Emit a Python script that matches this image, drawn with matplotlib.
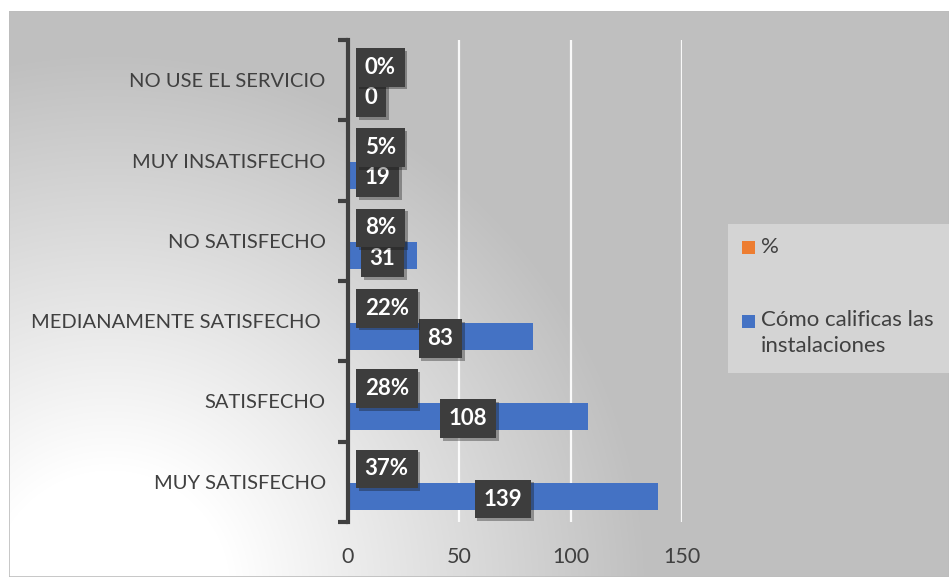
import numpy as np
import matplotlib.pyplot as plt
from matplotlib import patheffects
from matplotlib.patches import Rectangle

# Datos de la encuesta
categorias = ['MUY SATISFECHO', 'SATISFECHO', 'MEDIANAMENTE SATISFECHO ',
              'NO SATISFECHO', 'MUY INSATISFECHO', 'NO USE EL SERVICIO']
respuestas = [139, 108, 83, 31, 19, 0]
porcentajes = [0.37, 0.28, 0.22, 0.08, 0.05, 0.00]
etiquetas_pct = ['37%', '28%', '22%', '8%', '5%', '0%']
ticks_x = [0, 50, 100, 150]

plt.rcParams['font.family'] = ['Lato', 'DejaVu Sans']

W, H = 949, 577
fig = plt.figure(figsize=(W / 100, H / 100), dpi=100)
fig.patch.set_facecolor('white')

# fondo gris con degradado blanco desde la esquina inferior izquierda
x0, y0 = 9, 11
bg = fig.add_axes([x0 / W, 0, (W - x0) / W, (H - y0) / H], zorder=-10)
xx, yy = np.meshgrid(np.arange(x0, W), np.arange(y0, H))
d = np.hypot(xx - 110, yy - 590)
f = np.clip((d - 120) / 420, 0, 1)
g = 1 - f * (1 - 191 / 255)
bg.imshow(np.dstack([g, g, g]), aspect='auto', interpolation='bilinear')
bg.add_patch(Rectangle((0, 0), 1, 1, transform=bg.transAxes, fill=False,
                       edgecolor='#bdbdbd', lw=1.2))
bg.axis('off')

ax = fig.add_axes([348 / W, 55 / H, 334 / W, 482 / H])
ax.set_facecolor('none')
y = np.arange(len(categorias))
h = 0.3375
b_resp = ax.barh(y - 0.1875, respuestas, height=h, color='#4472C4', zorder=3)
b_pct = ax.barh(y + 0.1875, porcentajes, height=h, color='#ED7D31', zorder=3)

ax.set_xlim(0, 150)
ax.set_ylim(-0.5, len(categorias) - 0.5)
ax.set_xticks(ticks_x)
ax.set_yticks(y, categorias)
ax.set_yticks(np.arange(-0.5, len(categorias)), minor=True)
ax.tick_params(axis='y', which='major', length=0, pad=16, labelsize=14.5,
               labelcolor='#404040')
ax.tick_params(axis='y', which='minor', length=7, width=3, color='#404040')
ax.tick_params(axis='x', length=0, pad=18, labelsize=15.5, labelcolor='#404040')
ax.grid(axis='x', color='white', lw=1.6, alpha=0.9, zorder=1)
for s in ['top', 'right', 'bottom']:
    ax.spines[s].set_visible(False)
ax.spines['left'].set_linewidth(3)
ax.spines['left'].set_color('#404040')
ax.spines['left'].set_zorder(4)

# etiquetas de datos en cajas oscuras
caja = dict(boxstyle='square,pad=0.4', fc='#3d3d3d', ec='none')
sombra = [patheffects.withSimplePatchShadow(offset=(2, -2), alpha=0.35),
          patheffects.Normal()]
etiquetas_num = []
for i, (v, p) in enumerate(zip(respuestas, etiquetas_pct)):
    t = ax.annotate(str(v), xy=(v / 2, i - 0.215), xytext=(0, 0),
                    textcoords='offset points', ha='center', va='center',
                    color='white', fontsize=16, fontweight='bold',
                    bbox=caja, zorder=5, annotation_clip=False)
    t.get_bbox_patch().set_path_effects(sombra)
    etiquetas_num.append(t)
    tp = ax.annotate(p, xy=(0, i + 0.16), xytext=(12, 0),
                     textcoords='offset points', ha='left', va='center',
                     color='white', fontsize=16, fontweight='bold',
                     bbox=caja, zorder=6, annotation_clip=False)
    tp.get_bbox_patch().set_path_effects(sombra)

# las cajas que no caben dentro de la barra se arriman al eje
fig.canvas.draw()
eje_px = ax.transData.transform((0, 0))[0]
for t in etiquetas_num:
    ext = t.get_bbox_patch().get_window_extent()
    if ext.x0 < eje_px + 8:
        t.xy = (0, t.xy[1])
        t.set_position((12, 0))
        t.set_ha('left')

# leyenda
fig.patches.append(Rectangle((728 / W, (H - 373) / H), (W - 728) / W, 149 / H,
                             transform=fig.transFigure, fc='#d4d4d4', ec='none',
                             zorder=1))
fig.patches.append(Rectangle((742 / W, (H - 254) / H), 13 / W, 13 / H,
                             transform=fig.transFigure, fc='#ED7D31', ec='none',
                             zorder=2))
fig.patches.append(Rectangle((742 / W, (H - 328) / H), 13 / W, 13 / H,
                             transform=fig.transFigure, fc='#4472C4', ec='none',
                             zorder=2))
fig.text(761 / W, (H - 247) / H, '%', ha='left', va='center', fontsize=16,
         color='#404040')
fig.text(761 / W, (H - 310) / H, 'Cómo calificas las\ninstalaciones', ha='left',
         va='top', fontsize=16, color='#404040', linespacing=1.4)

fig.savefig('out.png', dpi=100)
